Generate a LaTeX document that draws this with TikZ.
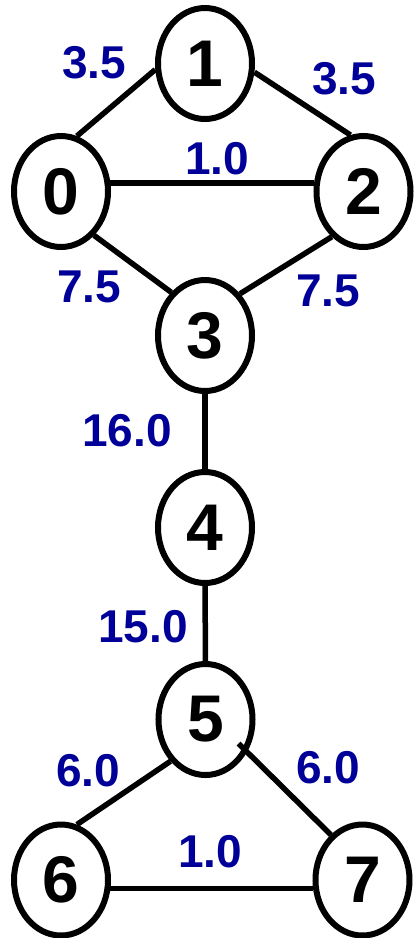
\documentclass[tikz,border=0pt]{standalone}
\usepackage{tikz}
\usetikzlibrary{
  arrows.meta,
  shapes.geometric
}
\usepackage{xcolor}
\usepackage{fontspec}
\setmainfont{Liberation Sans}
\definecolor{gblack}{HTML}{000000}
\definecolor{gblue}{HTML}{000099}

\begin{document}
\begin{tikzpicture}[
  x=1pt, y=-1pt,
  vertex/.style={draw=gblack, ellipse, line width=6pt, minimum width=94pt,
    minimum height=111pt, inner sep=0pt, fill=white,
    font=\fontsize{66}{66}\selectfont\bfseries},
  weight/.style={text=gblue, inner sep=0pt, font=\fontsize{46}{46}\selectfont\bfseries},
  link/.style={draw=gblack, line width=5.5pt}
]
  \useasboundingbox (0,0) rectangle (414,938);

  % vertices
  \node[vertex] (n0) at (61,191.5) {0};
  \node[vertex] (n1) at (205,63.5) {1};
  \node[vertex] (n2) at (363.5,191.5) {2};
  \node[vertex] (n3) at (205,335.5) {3};
  \node[vertex] (n4) at (205,527.5) {4};
  \node[vertex] (n5) at (205.5,719.5) {5};
  \node[vertex] (n6) at (61,880) {6};
  \node[vertex] (n7) at (362.5,880) {7};

  % edges
  \draw[link] (n0.74) -- (n1.187);
  \draw[link] (n1.-10) -- (n2.103);
  \draw[link] (n0.10) -- (n2.170);
  \draw[link] (n0.-53) -- (n3.128);
  \draw[link] (n2.-125) -- (n3.50);
  \draw[link] (n3) -- (n4);
  \draw[link] (n4) -- (n5);
  \draw[link] (n5.-130) -- (n6.74);
  \draw[link, shorten <=-12pt] (n5.-38) -- (n7.125);
  \draw[link] (n6.-10) -- (n7.190);

  % weights
  \node[weight] (w01) at (94,63) {3.5};
  \node[weight] (w12) at (344,79) {3.5};
  \node[weight] (w02) at (217,159) {1.0};
  \node[weight] (w03) at (89,287) {7.5};
  \node[weight] (w23) at (328,291) {7.5};
  \node[weight] (w34) at (127,431) {16.0};
  \node[weight] (w45) at (143,627) {15.0};
  \node[weight] (w56) at (88,771) {6.0};
  \node[weight] (w57) at (328,768) {6.0};
  \node[weight] (w67) at (210,852) {1.0};

\end{tikzpicture}
\end{document}
